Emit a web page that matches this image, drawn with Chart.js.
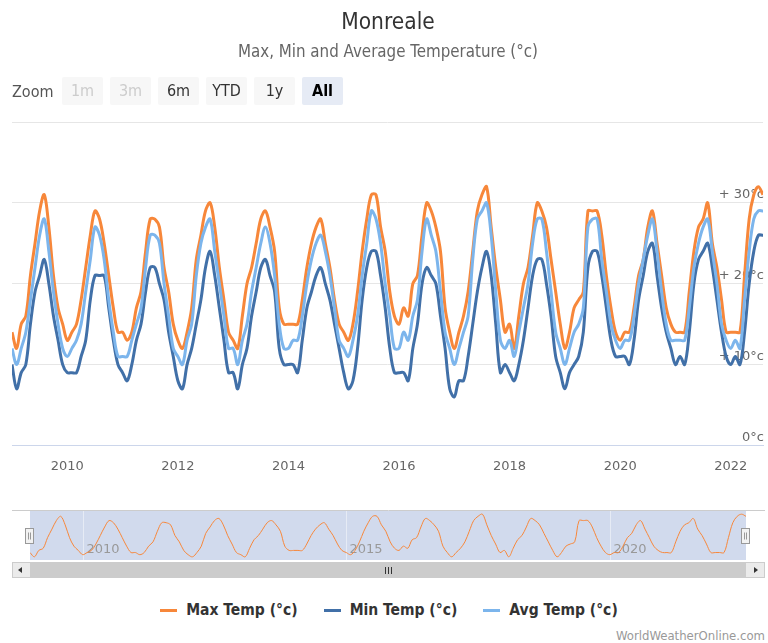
<!DOCTYPE html>
<html>
<head>
<meta charset="utf-8">
<title>Monreale</title>
<script src="https://cdn.jsdelivr.net/npm/chart.js@4.4.1/dist/chart.umd.min.js"></script>
<style>
body { margin: 0; background: #fff; }
#wrap { position: relative; width: 768px; height: 643px; overflow: hidden;
  font-family: 'DejaVu Sans Condensed', 'DejaVu Sans', sans-serif; font-stretch: condensed; }
canvas { position: absolute; left: 0; }
#title { position: absolute; top: 8px; left: 0; width: 776px; text-align: center; font-size: 22.5px; color: #333; }
#subtitle { position: absolute; top: 41px; left: 0; width: 776px; text-align: center; font-size: 16.8px; color: #666; }
#zoomLabel { position: absolute; top: 82px; left: 12px; font-size: 16px; color: #555; }
.btn { position: absolute; top: 77px; width: 41px; height: 28px; line-height: 28px; text-align: center;
  background: #f7f7f7; color: #333; font-size: 16px; border-radius: 2px; }
.btn.off { color: #cccccc; }
.btn.on { background: #e6ebf5; color: #000; font-weight: bold; }
#legend { position: absolute; top: 601px; left: 5px; width: 768px; display: flex; justify-content: center;
  font-size: 15.5px; font-weight: bold; color: #333; }
.item { display: flex; align-items: center; margin: 0 13px; }
.sym { width: 17px; height: 3px; margin-right: 9px; }
#credits { position: absolute; top: 628px; right: 3px; font-size: 13px; color: #999; }
</style>
</head>
<body>
<div id="wrap">
  <canvas id="main" width="768" height="500" style="top:0"></canvas>
  <canvas id="nav" width="768" height="85" style="top:500px"></canvas>
  <div id="title">Monreale</div>
  <div id="subtitle">Max, Min and Average Temperature (°c)</div>
  <div id="zoomLabel">Zoom</div>
  <div id="buttons"></div>
  <div id="legend"></div>
  <div id="credits">WorldWeatherOnline.com</div>
</div>
<script>
// monthly values, Jan 2009 .. Aug 2022
const startYear = 2009;
const maxTemp = [
    14, 12, 15, 16, 21, 25, 29, 31, 27, 21, 17, 15,
    13, 14, 15, 18, 22, 26, 29, 28, 25, 21, 17, 14,
    14, 13, 14, 17, 19, 24, 28, 28, 27, 22, 19, 15,
    13, 12, 14, 17, 23, 26, 29, 30, 27, 22, 18, 14,
    13, 12, 16, 20, 22, 25, 28, 29, 27, 24, 17, 15,
    15, 15, 15, 18, 22, 25, 27, 28, 25, 22, 18, 15,
    14, 13, 15, 19, 24, 28, 31, 31, 27, 24, 19, 16,
    15, 17, 16, 20, 21, 26, 30, 29, 27, 24, 17, 14,
    12, 14, 16, 19, 24, 29, 31, 32, 27, 22, 18, 14,
    15, 12, 16, 20, 22, 26, 30, 29, 27, 23, 19, 15,
    12, 14, 17, 18, 19, 29, 29, 29, 26, 21, 17, 14,
    13, 14, 14, 17, 21, 23, 27, 29, 25, 21, 17, 15,
    14, 14, 14, 19, 24, 27, 28, 30, 25, 22, 18, 14,
    14, 14, 14, 21, 28, 31, 32, 31
];
const minTemp = [
    10, 7, 9, 10, 15, 19, 21, 23, 20, 16, 13, 10,
    9, 9, 9, 11, 13, 18, 21, 21, 21, 17, 13, 10,
    9, 8, 10, 13, 15, 19, 22, 22, 20, 18, 14, 11,
    8, 7, 10, 12, 15, 18, 22, 24, 21, 17, 13, 9,
    9, 7, 10, 12, 16, 19, 22, 23, 21, 19, 12, 10,
    10, 10, 9, 13, 17, 19, 21, 22, 20, 18, 15, 12,
    9, 7, 8, 12, 18, 22, 24, 24, 21, 17, 12, 9,
    9, 9, 8, 12, 15, 20, 22, 21, 20, 16, 12, 7,
    6, 8, 8, 11, 15, 19, 22, 24, 21, 15, 9, 10,
    9, 8, 10, 13, 17, 21, 23, 23, 20, 16, 11, 9,
    7, 9, 10, 11, 14, 22, 24, 24, 21, 17, 13, 11,
    11, 11, 10, 13, 18, 21, 24, 25, 21, 17, 14, 12,
    10, 11, 10, 14, 20, 23, 24, 25, 22, 18, 14, 11,
    10, 11, 10, 14, 20, 24, 26, 26
];
const avgTemp = [
    12, 10, 12, 14, 18, 22, 26, 28, 24, 19, 15, 12,
    11, 12, 13, 15, 19, 23, 27, 26, 23, 18, 14, 11,
    11, 11, 13, 15, 17, 22, 26, 26, 25, 20, 16, 12,
    11, 10, 13, 15, 21, 25, 27, 28, 24, 20, 16, 12,
    12, 10, 13, 15, 19, 22, 25, 27, 25, 21, 15, 12,
    12, 13, 13, 16, 20, 23, 25, 26, 24, 21, 17, 13,
    12, 11, 13, 16, 21, 25, 29, 28, 25, 20, 16, 12,
    12, 14, 13, 16, 18, 24, 28, 26, 24, 19, 14, 12,
    10, 12, 14, 16, 23, 28, 29, 30, 26, 19, 13, 12,
    13, 11, 14, 17, 20, 25, 28, 28, 24, 19, 14, 12,
    10, 12, 14, 15, 17, 27, 28, 28, 23, 19, 15, 13,
    12, 13, 13, 16, 20, 23, 26, 28, 24, 19, 15, 13,
    13, 13, 13, 17, 22, 25, 27, 28, 24, 20, 15, 13,
    12, 13, 12, 18, 24, 28, 29, 29
];
const tickYears = [2010, 2012, 2014, 2016, 2018, 2020, 2022];
const navYears = [2010, 2015, 2020];
const yTicks = [0, 10, 20, 30, 40];
const zoomButtons = ["1m", "3m", "6m", "YTD", "1y", "All"];

const colMax = "#f7873a";
const colMin = "#4170a8";
const colAvg = "#7cb5ec";
const lastIndex = maxTemp.length - 1;

function toPoints(arr) {
    return arr.map((v, i) => ({ x: i, y: v }));
}
function monthOf(year) {
    return (year - startYear) * 12;
}

// range selector buttons
const btnBox = document.getElementById("buttons");
zoomButtons.forEach((b, i) => {
    const d = document.createElement("div");
    d.className = "btn" + (i < 2 ? " off" : "") + (b === "All" ? " on" : "");
    d.style.left = (62 + i * 48) + "px";
    d.textContent = b;
    btnBox.appendChild(d);
});

// legend
const series = [
    { label: "Max Temp (°c)", data: maxTemp, color: colMax, order: 2 },
    { label: "Min Temp (°c)", data: minTemp, color: colMin, order: 1 },
    { label: "Avg Temp (°c)", data: avgTemp, color: colAvg, order: 0 }
];
const legend = document.getElementById("legend");
series.forEach(s => {
    const it = document.createElement("div");
    it.className = "item";
    it.innerHTML = `<span class="sym" style="background:${s.color}"></span><span>${s.label}</span>`;
    legend.appendChild(it);
});

const tickFont = { family: "'DejaVu Sans', sans-serif", size: 13 };

new Chart(document.getElementById("main"), {
    type: "line",
    data: {
        datasets: series.map(s => ({
            label: s.label,
            data: toPoints(s.data),
            borderColor: s.color,
            borderWidth: 3,
            pointRadius: 0,
            tension: 0.35,
            fill: false,
            order: s.order
        }))
    },
    options: {
        responsive: false,
        animation: false,
        events: [],
        layout: { padding: { top: 122, left: 12, right: 3, bottom: 21 } },
        plugins: { legend: { display: false }, tooltip: { enabled: false } },
        scales: {
            x: {
                type: "linear",
                min: 0,
                max: lastIndex,
                afterBuildTicks: scale => {
                    scale.ticks = tickYears.map(y => ({ value: monthOf(y) }));
                },
                ticks: {
                    color: "#666",
                    font: tickFont,
                    padding: 5,
                    maxRotation: 0,
                    autoSkip: false,
                    callback: v => String(startYear + v / 12)
                },
                grid: { display: false },
                border: { display: true, color: "#ccd6eb", width: 1 }
            },
            y: {
                position: "right",
                min: 0,
                max: 40,
                afterBuildTicks: scale => {
                    scale.ticks = yTicks.map(v => ({ value: v }));
                },
                ticks: {
                    mirror: true,
                    padding: 1,
                    labelOffset: -8,
                    color: "#666",
                    font: tickFont,
                    callback: v => v === 40 ? "" : (v === 0 ? "0°c" : "+ " + v + "°c")
                },
                grid: { color: "#e6e6e6", drawTicks: false },
                border: { display: false }
            }
        }
    }
});

// navigator + scrollbar decorations
const navDecor = {
    id: "navDecor",
    beforeDatasetsDraw(chart) {
        const { ctx, chartArea: a, scales } = chart;
        ctx.save();
        ctx.fillStyle = "rgba(102,133,194,0.3)";
        ctx.fillRect(a.left, a.top, a.right - a.left, a.bottom - a.top);
        ctx.strokeStyle = "rgba(255,255,255,0.45)";
        ctx.lineWidth = 1;
        ctx.font = "13px 'DejaVu Sans', sans-serif";
        ctx.fillStyle = "#999";
        ctx.textBaseline = "middle";
        navYears.forEach(y => {
            const px = Math.round(scales.x.getPixelForValue(monthOf(y))) + 0.5;
            ctx.beginPath();
            ctx.moveTo(px, a.top);
            ctx.lineTo(px, a.bottom);
            ctx.stroke();
            ctx.fillText(String(y), px + 3, a.bottom - 10);
        });
        ctx.restore();
    },
    afterDraw(chart) {
        const { ctx, chartArea: a } = chart;
        const W = chart.width;
        ctx.save();
        // outline
        ctx.strokeStyle = "#cccccc";
        ctx.lineWidth = 1;
        ctx.beginPath();
        ctx.moveTo(12, a.top - 0.5);
        ctx.lineTo(W - 3, a.top - 0.5);
        ctx.stroke();
        // handles
        const midY = (a.top + a.bottom) / 2;
        [a.left, a.right].forEach(hx => {
            const x0 = Math.round(hx) - 4.5;
            const y0 = Math.round(midY - 8) + 0.5;
            ctx.fillStyle = "#f2f2f2";
            ctx.strokeStyle = "#999";
            ctx.fillRect(x0, y0, 8, 15);
            ctx.strokeRect(x0, y0, 8, 15);
            ctx.beginPath();
            ctx.moveTo(x0 + 3, y0 + 4); ctx.lineTo(x0 + 3, y0 + 11);
            ctx.moveTo(x0 + 5, y0 + 4); ctx.lineTo(x0 + 5, y0 + 11);
            ctx.stroke();
        });
        // scrollbar
        const sy = a.bottom + 2;
        const sh = 16;
        ctx.fillStyle = "#f2f2f2";
        ctx.fillRect(12, sy, W - 15, sh);
        ctx.fillStyle = "#cccccc";
        ctx.fillRect(a.left, sy, a.right - a.left, sh);
        ctx.fillStyle = "#ebebeb";
        ctx.fillRect(12, sy, a.left - 12, sh);
        ctx.fillRect(a.right, sy, W - 3 - a.right, sh);
        ctx.strokeStyle = "#cccccc";
        ctx.strokeRect(12.5, sy + 0.5, W - 16, sh - 1);
        ctx.fillStyle = "#333";
        const cy = sy + sh / 2;
        ctx.beginPath();
        ctx.moveTo(18, cy); ctx.lineTo(22, cy - 3); ctx.lineTo(22, cy + 3); ctx.closePath();
        ctx.fill();
        const rx = W - 12;
        ctx.beginPath();
        ctx.moveTo(rx + 2, cy); ctx.lineTo(rx - 2, cy - 3); ctx.lineTo(rx - 2, cy + 3); ctx.closePath();
        ctx.fill();
        const gx = Math.round((a.left + a.right) / 2);
        ctx.strokeStyle = "#333";
        ctx.beginPath();
        [-3, 0, 3].forEach(d => {
            ctx.moveTo(gx + d + 0.5, cy - 3);
            ctx.lineTo(gx + d + 0.5, cy + 4);
        });
        ctx.stroke();
        ctx.restore();
    }
};

new Chart(document.getElementById("nav"), {
    type: "line",
    data: {
        datasets: [{
            data: toPoints(maxTemp),
            borderColor: colMax,
            borderWidth: 1,
            pointRadius: 0,
            tension: 0.35,
            fill: false
        }]
    },
    options: {
        responsive: false,
        animation: false,
        events: [],
        layout: { padding: { top: 11, left: 30, right: 22, bottom: 25 } },
        plugins: { legend: { display: false }, tooltip: { enabled: false } },
        scales: {
            x: { type: "linear", min: 0, max: lastIndex, display: false },
            y: { min: 10.5, max: 33.5, display: false }
        }
    },
    plugins: [navDecor]
});
</script>
</body>
</html>
